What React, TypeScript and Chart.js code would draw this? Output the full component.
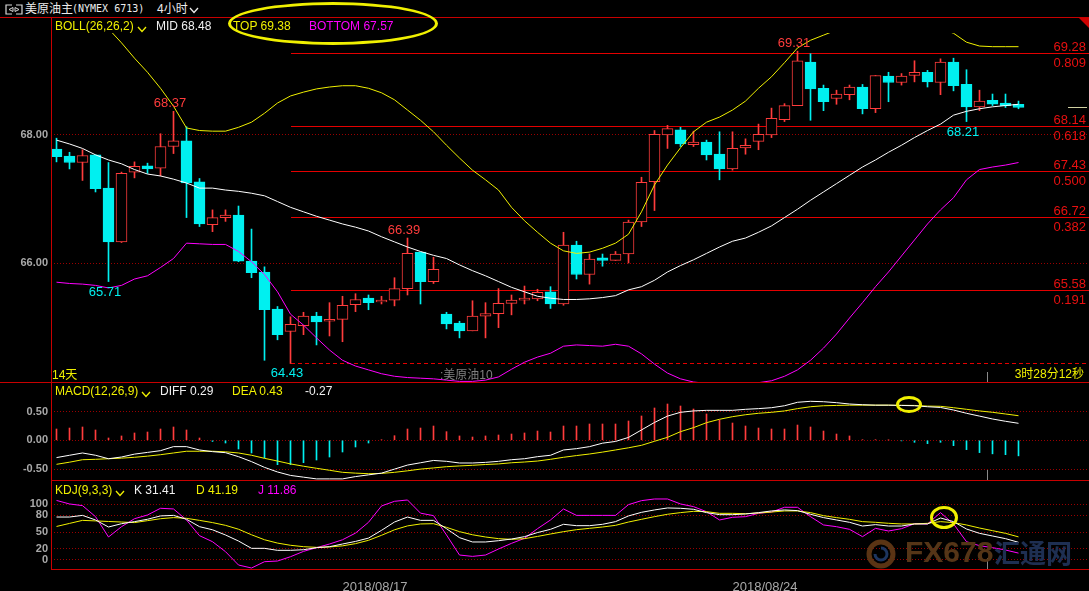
import React, { useEffect, useRef } from 'react';
import { Chart, registerables } from 'chart.js';

Chart.register(...registerables);

const FONT = '"Liberation Sans", Arial, "Noto Sans CJK SC", sans-serif';
const MONO = '"DejaVu Sans Mono", "Liberation Mono", monospace';

const RED = '#ff3c3c';
const CYAN = '#00f0f0';
const YELLOW = '#f0f000';
const MAGENTA = '#ff00ff';
const WHITE = '#ffffff';
const GRID = '#9a0000';
const FIB = '#e40000';
const BORDER = '#c80000';
const AXIS_TEXT = '#a8a8a8';

// ---------- candles ----------
const opens = [67.78, 67.67, 67.57, 67.69, 67.17, 66.33, 67.42, 67.52, 67.48, 67.82,
  67.91, 67.27, 66.60, 66.71, 66.75, 66.03, 65.86, 65.28, 64.93, 65.02,
  65.17, 65.09, 65.12, 65.35, 65.45, 65.39, 65.42, 65.60, 66.17, 65.71,
  65.20, 65.06, 64.94, 65.17, 65.21, 65.37, 65.42, 65.44, 65.55, 65.36,
  66.28, 65.82, 66.08, 66.04, 66.14, 66.64, 67.27, 68.00, 68.08, 67.85,
  67.89, 67.70, 67.47, 67.80, 67.90, 68.00, 68.24, 68.46, 69.14, 68.73,
  68.57, 68.63, 68.75, 68.41, 68.92, 68.82, 68.93, 68.98, 68.82, 69.14,
  68.79, 68.44, 68.54, 68.50, 68.48];
const highs = [67.95, 67.73, 67.77, 67.69, 67.57, 67.42, 67.58, 67.56, 68.02, 68.37,
  68.13, 67.32, 66.83, 66.83, 66.89, 66.53, 65.94, 65.32, 65.16, 65.23,
  65.23, 65.38, 65.48, 65.52, 65.50, 65.48, 65.77, 66.39, 66.17, 66.09,
  65.23, 65.09, 65.41, 65.38, 65.60, 65.50, 65.64, 65.59, 65.63, 66.48,
  66.34, 66.14, 66.14, 66.18, 66.67, 67.34, 68.07, 68.15, 68.12, 68.06,
  67.92, 68.05, 68.05, 67.94, 68.17, 68.42, 68.49, 69.31, 69.27, 68.78,
  68.70, 68.78, 68.79, 68.93, 68.98, 68.96, 69.16, 69.01, 69.19, 69.20,
  69.02, 68.70, 68.64, 68.64, 68.53];
const lows = [67.58, 67.47, 67.29, 67.11, 65.71, 66.32, 67.33, 67.40, 67.36, 67.71,
  66.71, 66.57, 66.49, 66.65, 66.02, 65.77, 64.48, 64.80, 64.43, 64.88,
  64.72, 64.86, 64.77, 65.24, 65.27, 65.36, 65.33, 65.50, 65.36, 65.68,
  64.97, 64.83, 64.94, 64.83, 64.99, 65.19, 65.36, 65.41, 65.29, 65.34,
  65.75, 65.67, 65.95, 66.04, 66.00, 66.57, 66.82, 67.79, 67.82, 67.82,
  67.61, 67.30, 67.45, 67.70, 67.77, 67.96, 68.21, 68.46, 68.23, 68.38,
  68.48, 68.55, 68.33, 68.35, 68.52, 68.78, 68.83, 68.75, 68.63, 68.69,
  68.21, 68.38, 68.46, 68.43, 68.41];
const closes = [67.66, 67.57, 67.68, 67.16, 66.33, 67.40, 67.51, 67.47, 67.82, 67.91,
  67.25, 66.61, 66.71, 66.75, 66.03, 65.85, 65.27, 64.88, 65.04, 65.17,
  65.08, 65.12, 65.34, 65.43, 65.38, 65.42, 65.60, 66.15, 65.71, 65.90,
  65.05, 64.94, 65.17, 65.21, 65.37, 65.42, 65.45, 65.54, 65.36, 66.28,
  65.82, 66.06, 66.04, 66.14, 66.64, 67.26, 68.01, 68.10, 67.86, 67.89,
  67.69, 67.47, 67.79, 67.84, 68.01, 68.26, 68.46, 69.16, 68.72, 68.52,
  68.64, 68.75, 68.41, 68.93, 68.82, 68.92, 68.98, 68.83, 69.14, 68.77,
  68.44, 68.53, 68.48, 68.46, 68.43];

// ---------- BOLL(26,26,2) ----------
const bollMid = [67.92, 67.86, 67.79, 67.69, 67.61, 67.55, 67.46, 67.39, 67.36, 67.31,
  67.25, 67.17, 67.17, 67.14, 67.12, 67.09, 67.05, 66.96, 66.87, 66.80,
  66.73, 66.67, 66.61, 66.56, 66.50, 66.41, 66.33, 66.25, 66.18, 66.12,
  66.07, 65.97, 65.88, 65.80, 65.71, 65.62, 65.55, 65.48, 65.45, 65.43,
  65.43, 65.44, 65.46, 65.49, 65.58, 65.63, 65.73, 65.86, 65.96, 66.05,
  66.15, 66.25, 66.34, 66.39, 66.48, 66.58, 66.71, 66.84, 66.98, 67.11,
  67.24, 67.37, 67.50, 67.61, 67.73, 67.84, 67.96, 68.07, 68.17, 68.31,
  68.37, 68.41, 68.44, 68.46, 68.48];
const bollTop = [70.90, 70.60, 70.30, 70.00, 69.66, 69.44, 69.20, 68.98, 68.73, 68.45,
  68.11, 68.07, 68.06, 68.06, 68.12, 68.20, 68.34, 68.50, 68.61, 68.67,
  68.72, 68.75, 68.77, 68.77, 68.73, 68.66, 68.55, 68.39, 68.23, 68.05,
  67.84, 67.64, 67.45, 67.30, 67.14, 66.87, 66.66, 66.48, 66.31, 66.19,
  66.15, 66.17, 66.23, 66.31, 66.45, 66.80, 67.22, 67.53, 67.80, 68.05,
  68.20, 68.28, 68.39, 68.53, 68.73, 68.91, 69.13, 69.36, 69.48, 69.56,
  69.64, 69.75, 69.85, 69.90, 69.95, 69.92, 69.85, 69.76, 69.66, 69.59,
  69.45, 69.39, 69.38, 69.38, 69.38];
const bollBottom = [65.70, 65.68, 65.67, 65.65, 65.61, 65.65, 65.75, 65.80, 65.93, 66.07,
  66.31, 66.30, 66.29, 66.29, 66.18, 66.02, 65.82, 65.55, 65.20, 65.03,
  64.83, 64.64, 64.48, 64.39, 64.33, 64.27, 64.23, 64.21, 64.20, 64.19,
  64.17, 64.15, 64.15, 64.17, 64.22, 64.34, 64.45, 64.53, 64.59, 64.70,
  64.72, 64.71, 64.70, 64.73, 64.70, 64.58, 64.42, 64.28, 64.19, 64.14,
  64.12, 64.11, 64.11, 64.12, 64.13, 64.16, 64.23, 64.33, 64.48, 64.67,
  64.89, 65.14, 65.38, 65.63, 65.86, 66.11, 66.36, 66.61, 66.83, 67.02,
  67.30, 67.46, 67.50, 67.53, 67.57];

// ---------- MACD(12,26,9) ----------
const macdHist = [0.196, 0.213, 0.231, 0.179, 0.040, 0.075, 0.127, 0.144, 0.196, 0.231,
  0.179, 0.040, -0.020, -0.047, -0.151, -0.220, -0.307, -0.423, -0.423, -0.388,
  -0.342, -0.290, -0.203, -0.116, -0.047, 0.010, 0.080, 0.196, 0.213, 0.248,
  0.150, 0.075, 0.057, 0.075, 0.092, 0.109, 0.127, 0.161, 0.144, 0.248,
  0.248, 0.283, 0.283, 0.283, 0.335, 0.422, 0.561, 0.630, 0.595, 0.543,
  0.457, 0.352, 0.300, 0.248, 0.213, 0.196, 0.196, 0.265, 0.231, 0.161,
  0.109, 0.075, 0.010, 0.010, 0.004, -0.010, -0.035, -0.058, -0.035, -0.093,
  -0.162, -0.214, -0.235, -0.250, -0.270];
const macdDiff = [-0.300, -0.260, -0.220, -0.260, -0.320, -0.290, -0.240, -0.210, -0.180, -0.110,
  -0.110, -0.168, -0.197, -0.215, -0.284, -0.370, -0.470, -0.550, -0.610, -0.640,
  -0.670, -0.670, -0.670, -0.630, -0.600, -0.570, -0.500, -0.430, -0.390, -0.350,
  -0.365, -0.394, -0.394, -0.383, -0.365, -0.337, -0.320, -0.284, -0.260, -0.168,
  -0.145, -0.110, -0.050, -0.020, 0.050, 0.180, 0.310, 0.420, 0.486, 0.510,
  0.520, 0.520, 0.520, 0.538, 0.550, 0.566, 0.600, 0.660, 0.677, 0.670,
  0.653, 0.630, 0.618, 0.610, 0.610, 0.605, 0.600, 0.583, 0.570, 0.526,
  0.469, 0.420, 0.370, 0.330, 0.295];
const macdDea = [-0.417, -0.380, -0.337, -0.330, -0.320, -0.310, -0.295, -0.275, -0.250, -0.220,
  -0.190, -0.190, -0.190, -0.200, -0.220, -0.260, -0.313, -0.360, -0.410, -0.450,
  -0.486, -0.520, -0.556, -0.570, -0.580, -0.575, -0.556, -0.530, -0.500, -0.480,
  -0.458, -0.445, -0.434, -0.420, -0.410, -0.390, -0.377, -0.360, -0.330, -0.295,
  -0.265, -0.238, -0.205, -0.168, -0.130, -0.087, -0.017, 0.052, 0.150, 0.220,
  0.306, 0.365, 0.410, 0.444, 0.469, 0.486, 0.510, 0.550, 0.583, 0.600,
  0.605, 0.610, 0.610, 0.610, 0.610, 0.607, 0.605, 0.594, 0.590, 0.566,
  0.538, 0.510, 0.486, 0.457, 0.427];

// ---------- KDJ(9,3,3) ----------
const kdjK = [77, 77, 80, 71.7, 59, 65, 68.7, 73, 79, 80,
  73, 59.6, 54, 44.6, 33.7, 20.5, 20.5, 16.9, 16.9, 18,
  21.7, 23.5, 28.3, 33, 39, 53, 68, 77, 71, 71,
  56, 39.8, 32, 32, 34.3, 37.3, 41.6, 49, 54.8, 63.9,
  61.4, 61.4, 63.9, 68.7, 79, 85.5, 89.8, 93.4, 92.8, 91,
  85, 81.3, 81.3, 82.5, 85, 88, 89.8, 88.6, 82, 76,
  71.7, 67.5, 60.8, 63.3, 60.8, 60.8, 64.5, 64.5, 75.3, 68.7,
  55.4, 47.6, 42.8, 38, 31.4];
const kdjD = [60, 65.5, 71, 70, 69, 68, 67, 70.5, 74, 76,
  74.7, 71, 67, 62, 55, 45, 36, 30, 26, 23.5,
  22.3, 23, 25, 29, 35, 44, 54, 61, 64.5, 65,
  58.4, 50.6, 45, 41, 38, 36.7, 38, 42, 46.4, 50.6,
  54.2, 56.6, 59, 62, 68, 72.9, 77.7, 82, 85, 87.3,
  86.7, 83.7, 83.7, 83, 84.3, 86, 88, 88, 85, 79.5,
  76, 72.9, 68.7, 67.5, 65.7, 64.5, 64.5, 65.7, 68.7, 66.9,
  62.7, 57.2, 52.4, 47.6, 41.2];
const kdjJ = [107, 100.6, 97.6, 77.7, 41, 59.6, 74, 80.7, 92.8, 91.6,
  71.7, 43.4, 32.5, 14.5, -9.6, -15, -3.6, -2.4, 5.4, 15,
  21.7, 28.3, 36, 48, 67.5, 97, 105.4, 107.8, 84, 79.5,
  44.6, 8.4, 6, 8.4, 19.3, 29.5, 38.6, 56, 71.7, 91.6,
  80, 80, 80, 80, 99.4, 106.6, 109.6, 109.6, 100.6, 95.8,
  86.7, 71.7, 76.5, 77.7, 83.7, 86, 94.6, 94.6, 77.7, 62.7,
  59.6, 54.8, 41.6, 56.6, 51.8, 56, 65, 64.5, 85, 64.5,
  32.5, 25.3, 21.7, 17.5, 11.9];

// ---------- ticks, labels, annotations ----------
const priceTicks = [66, 68];
const macdTicks = [-0.5, 0, 0.5];
const kdjTicks = [0, 20, 50, 80, 100];
const dateTickPos = [24.5, 54.5];
const dateLabels = ['2018/08/17', '2018/08/24'];

const fibPrices = [69.28, 68.14, 67.43, 66.72, 65.58];
const fibRatios = ['0.809', '0.618', '0.500', '0.382', '0.191'];
const fibBase = 64.43;
const fibStartIdx = 18;

const markIdx = [9, 4, 27, 18, 57, 70];
const markVal = [68.37, 65.71, 66.39, 64.43, 69.31, 68.21];
const markHigh = [true, false, true, false, true, false];

// x mapping: candle i sits at 56.5 + 13 i px (chart area from 51 to 1089)
const X_MIN = -5.5 / 13;
const X_MAX = X_MIN + 1038 / 13;

const idx = opens.map((_, i) => i);
const isUp = idx.map((i) => closes[i] >= opens[i]);
const pts = (arr: number[]) => idx.map((i) => ({ x: i, y: arr[i] }));

Chart.defaults.font.family = FONT;

const zeroPad = (s: any) => {
  s.paddingTop = 0; s.paddingBottom = 0; s.paddingLeft = 0; s.paddingRight = 0;
};

function xAxis(display: boolean): any {
  const base: any = {
    type: 'linear', min: X_MIN, max: X_MAX, offset: false, bounds: 'data', display,
    grid: { display: false }, border: { display: false },
  };
  if (display) {
    base.afterFit = (s: any) => { s.height = 22; zeroPad(s); };
    base.afterBuildTicks = (s: any) => { s.ticks = dateTickPos.map((v) => ({ value: v })); };
    base.ticks = {
      autoSkip: false, maxRotation: 0, color: AXIS_TEXT, padding: 3,
      font: { family: FONT, size: 13 },
      callback: (_v: any, i: number) => dateLabels[i],
    };
  }
  return base;
}

function yAxis(min: number, max: number, ticks: number[], fmt: (v: number) => string): any {
  return {
    type: 'linear', position: 'left', min, max, bounds: 'data',
    afterFit: (s: any) => { s.width = 51; zeroPad(s); },
    afterBuildTicks: (s: any) => { s.ticks = ticks.map((v) => ({ value: v })); },
    ticks: {
      color: AXIS_TEXT, padding: 3, font: { family: FONT, size: 11, weight: 'bold' },
      callback: (v: any) => fmt(Number(v)),
    },
    grid: { color: GRID, lineWidth: 1, drawTicks: false },
    border: { display: false, dash: [1, 2] },
  };
}

const lineDs = (label: string, data: number[], color: string, order = 0): any => ({
  type: 'line', label, data: pts(data), borderColor: color, borderWidth: 1,
  pointRadius: 0, tension: 0, fill: false, order,
});

const fibPlugin = {
  id: 'fibAndMarks',
  beforeDatasetsDraw(chart: any) {
    const { ctx, chartArea, scales } = chart;
    const x = scales.x, y = scales.y;
    const x0 = Math.round(x.getPixelForValue(fibStartIdx));
    ctx.save();
    ctx.strokeStyle = FIB;
    ctx.lineWidth = 1;
    fibPrices.forEach((p) => {
      const py = Math.round(y.getPixelForValue(p)) + 0.5;
      ctx.beginPath(); ctx.moveTo(x0, py); ctx.lineTo(chartArea.right, py); ctx.stroke();
    });
    ctx.setLineDash([4, 3]);
    const pb = Math.round(y.getPixelForValue(fibBase)) + 0.5;
    ctx.beginPath(); ctx.moveTo(x0, pb); ctx.lineTo(chartArea.right, pb); ctx.stroke();
    ctx.restore();
  },
  afterDatasetsDraw(chart: any) {
    const { ctx, chartArea, scales } = chart;
    const x = scales.x, y = scales.y;
    ctx.save();
    ctx.font = `13px ${FONT}`;
    ctx.textAlign = 'right';
    ctx.textBaseline = 'alphabetic';
    ctx.fillStyle = '#e81010';
    fibPrices.forEach((p, k) => {
      const py = Math.round(y.getPixelForValue(p)) + 0.5;
      ctx.fillText(p.toFixed(2), chartArea.right - 3, py - 3);
      ctx.fillText(fibRatios[k], chartArea.right - 3, py + 13);
    });
    ctx.textAlign = 'center';
    markIdx.forEach((mi, k) => {
      const px = x.getPixelForValue(mi) - 3.5;
      const py = y.getPixelForValue(markVal[k]);
      ctx.fillStyle = markHigh[k] ? RED : CYAN;
      ctx.fillText(markVal[k].toFixed(2), px, markHigh[k] ? py - 4 : py + 14);
    });
    // last price marker
    const lp = Math.round(y.getPixelForValue(closes[closes.length - 1])) + 0.5;
    ctx.strokeStyle = '#d0d0a0';
    ctx.beginPath(); ctx.moveTo(chartArea.right - 21, lp); ctx.lineTo(chartArea.right - 2, lp); ctx.stroke();
    ctx.restore();
  },
};

const pos = (left: number, top: number, color: string, extra: any = {}): any => ({
  position: 'absolute', left, top, color, fontSize: 12, lineHeight: '14px', whiteSpace: 'nowrap',
  fontFamily: FONT, ...extra,
});

const Chevron = ({ left, top, color }: { left: number; top: number; color: string }) => (
  <svg style={{ position: 'absolute', left, top }} width="10" height="7">
    <polyline points="1,1 5,5.5 9,1" fill="none" stroke={color} strokeWidth="1.3" />
  </svg>
);

export default function App() {
  const mainRef = useRef<HTMLCanvasElement>(null);
  const macdRef = useRef<HTMLCanvasElement>(null);
  const kdjRef = useRef<HTMLCanvasElement>(null);

  useEffect(() => {
    document.body.style.margin = '0';
    document.body.style.background = '#000';
    document.documentElement.style.background = '#000';

    const common: any = {
      responsive: false, animation: false, events: [],
      plugins: { legend: { display: false }, tooltip: { enabled: false } },
    };

    const main = new Chart(mainRef.current as HTMLCanvasElement, {
      type: 'bar',
      data: {
        datasets: [
          lineDs('MID', bollMid, WHITE, 0),
          lineDs('TOP', bollTop, YELLOW, 0),
          lineDs('BOTTOM', bollBottom, MAGENTA, 0),
          {
            type: 'bar', label: 'body',
            data: idx.map((i) => ({ x: i, y: [opens[i], closes[i]] })),
            backgroundColor: isUp.map((u) => (u ? '#000000' : CYAN)),
            borderColor: isUp.map((u) => (u ? RED : CYAN)),
            borderWidth: 1, borderSkipped: false, barThickness: 11, grouped: false,
            minBarLength: 1, order: 1,
          },
          {
            type: 'bar', label: 'wick',
            data: idx.map((i) => ({ x: i, y: [lows[i], highs[i]] })),
            backgroundColor: isUp.map((u) => (u ? RED : CYAN)),
            borderWidth: 0, barThickness: 1, grouped: false, order: 2,
          },
        ] as any,
      },
      options: {
        ...common,
        layout: { padding: { top: 15, left: 0, right: 0, bottom: 0 } },
        scales: {
          x: xAxis(false),
          y: yAxis(68 - (382 - 135) / 64, 68 + (135 - 33) / 64, priceTicks, (v) => v.toFixed(2)),
        },
      },
      plugins: [fibPlugin],
    } as any);

    const macd = new Chart(macdRef.current as HTMLCanvasElement, {
      type: 'bar',
      data: {
        datasets: [
          lineDs('DIFF', macdDiff, WHITE, 0),
          lineDs('DEA', macdDea, YELLOW, 1),
          {
            type: 'bar', label: 'MACD', data: pts(macdHist),
            backgroundColor: macdHist.map((v) => (v >= 0 ? RED : CYAN)),
            borderWidth: 0, barThickness: 1, grouped: false, order: 2,
          },
        ] as any,
      },
      options: {
        ...common,
        layout: { padding: 0 },
        scales: {
          x: xAxis(false),
          y: yAxis((440.3 - 480) / 57.6, (440.3 - 382) / 57.6, macdTicks, (v) => v.toFixed(2)),
        },
      },
    } as any);

    const kdj = new Chart(kdjRef.current as HTMLCanvasElement, {
      type: 'line',
      data: {
        datasets: [
          lineDs('K', kdjK, WHITE, 0),
          lineDs('D', kdjD, YELLOW, 1),
          lineDs('J', kdjJ, MAGENTA, 2),
        ],
      },
      options: {
        ...common,
        layout: { padding: 0 },
        scales: {
          x: xAxis(true),
          y: yAxis((559.7 - 569) / 0.554, (559.7 - 480) / 0.554, kdjTicks, (v) => String(Math.round(v))),
        },
      },
    } as any);

    return () => { main.destroy(); macd.destroy(); kdj.destroy(); };
  }, []);

  const hLine = (top: number, left = 0, width = 1089, color = BORDER) => (
    <div style={{ position: 'absolute', left, top, width, height: 1, background: color }} />
  );
  const vGray = (top: number, height: number) => (
    <div style={{ position: 'absolute', left: 987, top, width: 1, height, background: '#8a8a8a' }} />
  );

  return (
    <div style={{ position: 'relative', width: 1089, height: 591, background: '#000', overflow: 'hidden', fontFamily: FONT }}>
      <canvas ref={mainRef} width={1089} height={364} style={{ position: 'absolute', left: 0, top: 18 }} />
      <canvas ref={macdRef} width={1089} height={98} style={{ position: 'absolute', left: 0, top: 382 }} />
      <canvas ref={kdjRef} width={1089} height={111} style={{ position: 'absolute', left: 0, top: 480 }} />

      {/* frame lines */}
      {hLine(17)}
      {hLine(382)}
      {hLine(480, 51, 1038)}
      {hLine(569, 51, 1038)}
      <div style={{ position: 'absolute', left: 51, top: 17, width: 1, height: 553, background: BORDER }} />
      <svg style={{ position: 'absolute', left: 1079, top: 18 }} width="10" height="10">
        <polygon points="0,0 10,0 10,10" fill="#d00000" />
      </svg>
      {vGray(372, 10)}
      {vGray(470, 10)}
      {vGray(558, 11)}

      {/* header */}
      <svg style={{ position: 'absolute', left: 4, top: 4 }} width="20" height="12">
        <polyline points="8,1 2,1 2,10 8,10" fill="none" stroke="#d8d8d8" strokeWidth="1.2" />
        <polyline points="12,1 18,1 18,10 12,10" fill="none" stroke="#d8d8d8" strokeWidth="1.2" />
        <polyline points="5,5.5 9,3.5 9,7.5 5,5.5" fill="none" stroke="#d8d8d8" strokeWidth="1" />
        <polyline points="15,5.5 11,3.5 11,7.5 15,5.5" fill="none" stroke="#d8d8d8" strokeWidth="1" />
      </svg>
      <div style={pos(25, 2, '#ececec', { fontSize: 12 })}>美原油主</div>
      <div style={pos(72, 2, '#ececec', { fontFamily: MONO, fontSize: 10 })}>(NYMEX 6713)</div>
      <div style={pos(157, 2, '#ececec')}>4小时</div>
      <Chevron left={189} top={7} color="#ececec" />

      {/* BOLL legend */}
      <div style={pos(55, 19, YELLOW)}>BOLL(26,26,2)</div>
      <Chevron left={137} top={26} color={YELLOW} />
      <div style={pos(156, 19, '#f0f0f0')}>MID 68.48</div>
      <div style={pos(233, 19, YELLOW)}>TOP 69.38</div>
      <div style={pos(309, 19, MAGENTA)}>BOTTOM 67.57</div>

      {/* main panel bottom texts */}
      <div style={pos(52, 368, YELLOW)}>14天</div>
      <div style={pos(440, 368, '#808080')}>:美原油10</div>
      <div style={pos(0, 367, YELLOW, { left: undefined, right: 5 })}>3时28分12秒</div>

      {/* MACD legend */}
      <div style={pos(55, 384, YELLOW)}>MACD(12,26,9)</div>
      <Chevron left={141} top={391} color={YELLOW} />
      <div style={pos(160, 384, '#f0f0f0')}>DIFF 0.29</div>
      <div style={pos(232, 384, YELLOW)}>DEA 0.43</div>
      <div style={pos(305, 384, '#f0f0f0')}>-0.27</div>

      {/* KDJ legend */}
      <div style={pos(55, 483, YELLOW)}>KDJ(9,3,3)</div>
      <Chevron left={115} top={490} color={YELLOW} />
      <div style={pos(134, 483, '#f0f0f0')}>K 31.41</div>
      <div style={pos(196, 483, YELLOW)}>D 41.19</div>
      <div style={pos(258, 483, MAGENTA)}>J 11.86</div>

      {/* watermark */}
      <svg style={{ position: 'absolute', left: 864, top: 537 }} width="34" height="34">
        <circle cx="17" cy="17" r="12" fill="none" stroke="#5a3414" strokeWidth="5" />
        <path d="M11 17 a6 6 0 1 0 6 -6" fill="none" stroke="#1d3560" strokeWidth="3" />
      </svg>
      <div style={pos(905, 535, '#553517', { fontSize: 30, lineHeight: '34px', fontWeight: 'bold' })}>FX678</div>
      <div style={pos(994, 536, '#1e2f52', { fontSize: 26, lineHeight: '32px', fontWeight: 'bold', fontFamily: '"Noto Sans CJK SC", sans-serif' })}>汇通网</div>

      {/* annotation ellipses */}
      <div style={{ position: 'absolute', left: 228, top: 2, width: 210, height: 43, border: '3px solid #f0f000', borderRadius: '50%', boxSizing: 'border-box' }} />
      <div style={{ position: 'absolute', left: 896, top: 396, width: 26, height: 17, border: '3px solid #f0f000', borderRadius: '50%', boxSizing: 'border-box' }} />
      <div style={{ position: 'absolute', left: 930, top: 506, width: 28, height: 23, border: '3px solid #f0f000', borderRadius: '50%', boxSizing: 'border-box' }} />
    </div>
  );
}
